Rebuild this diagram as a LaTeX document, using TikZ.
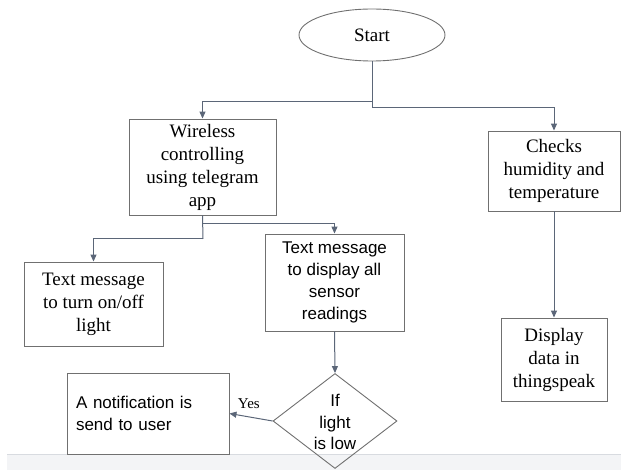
\documentclass[tikz,border=0pt]{standalone}
\usepackage{fontspec}
\newfontfamily\fserif{Liberation Serif}
\newfontfamily\fsans{Liberation Sans}
\usetikzlibrary{shapes.geometric,arrows.meta}
\definecolor{linec}{HTML}{5B6678}
\definecolor{boxc}{HTML}{707070}
\definecolor{barc}{HTML}{F3F4F6}
\definecolor{barl}{HTML}{D8DBE0}
\tikzset{
  boxser/.style={draw=boxc, line width=0.9pt, rectangle, inner sep=0pt, align=center,
    font=\fserif\fontsize{19pt}{23pt}\selectfont},
  boxsan/.style={draw=boxc, line width=0.9pt, rectangle, inner sep=0pt, align=center,
    font=\fsans\fontsize{17pt}{22pt}\selectfont},
  conn/.style={draw=linec, line width=1pt},
  arr/.style={conn, -{Triangle[length=7pt,width=6pt]}},
}
\begin{document}
\begin{tikzpicture}[x=1pt,y=-1pt]
\useasboundingbox (0,0) rectangle (621,470);
\fill[barc] (7,454) rectangle (621,470);
\draw[barl, line width=0.8pt] (7,454) -- (621,454);

\node[draw=boxc, line width=0.9pt, ellipse, minimum width=146pt, minimum height=52pt, inner sep=0pt,
  font=\fserif\fontsize{19pt}{23pt}\selectfont] (start) at (372,35) {Start};
\node[boxser, minimum width=147pt, minimum height=96pt] (wire) at (202.5,167)
  {Wireless\\controlling\\using telegram\\app};
\node[boxser, minimum width=139pt, minimum height=84pt] (onoff) at (93.5,304)
  {Text message\\to turn on/off\\light};
\node[boxsan, minimum width=139pt, minimum height=97pt] (disp) at (334.5,282.5)
  {Text message\\to display all\\sensor\\readings};
\node[draw=boxc, line width=0.9pt, diamond, minimum width=124pt, minimum height=95pt, inner sep=0pt] (cond) at (335,421) {};
\node[align=center, inner sep=0pt, font=\fsans\fontsize{17pt}{21.5pt}\selectfont] (condt) at (335,422) {If\\light\\is low};
\node[boxsan, minimum width=162pt, minimum height=81pt, align=left, text width=144pt] (notif) at (148,413.5)
  {A notification is\\send to user};
\node[boxser, minimum width=132pt, minimum height=80pt] (checks) at (554,171)
  {Checks\\humidity and\\temperature};
\node[boxser, minimum width=106pt, minimum height=83pt] (dd) at (554,359.5)
  {Display\\data in\\thingspeak};

\coordinate (s1) at (372,102);
\coordinate (s2) at (372,108);
\coordinate (w1) at (203,224);
\coordinate (w2) at (203,239);

\draw[conn] (start.south) -- (s2);
\draw[arr] (s1) -| (wire.north);
\draw[arr] (s2) -| (checks.north);
\draw[conn] (wire.south) -- (w2);
\draw[arr] (w2) -| (onoff.north);
\draw[arr] (w1) -| (disp.north);
\draw[arr] (disp.south) -- (cond.north);
\draw[arr] (cond.west) -- node[above=4pt, pos=0.55, font=\fserif\fontsize{15pt}{18pt}\selectfont] (yes) {Yes} (notif.east);
\draw[arr] (checks.south) -- (dd.north);
\end{tikzpicture}
\end{document}
